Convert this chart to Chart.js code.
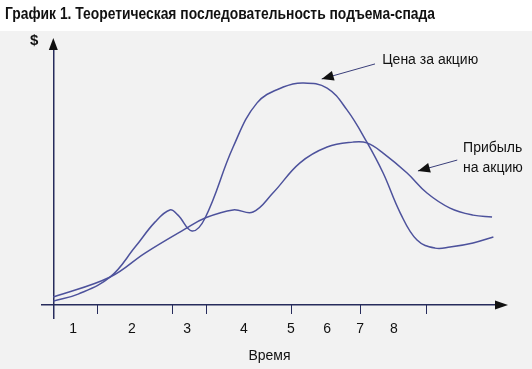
<!DOCTYPE html>
<html>
<head>
<meta charset="utf-8">
<script src="https://cdn.jsdelivr.net/npm/chart.js@4.4.1/dist/chart.umd.min.js"></script>
<style>
  body { margin: 0; background: #fff; }
  #wrap { width: 532px; height: 369px; }
</style>
</head>
<body>
<div id="wrap"><canvas id="boom-bust-chart" width="532" height="369"></canvas></div>
<script>
// chart 1 - boom/bust sequence

var titleText = "График 1. Теоретическая последовательность подъема-спада";

// x = time (arbitrary units), y = $ (arbitrary units)
var priceTime = [0, 5.5, 12.6, 18.1, 22.5, 25.8, 27.6, 30.7, 33.6, 39.8, 45.1, 50.9, 55.3, 60.6, 65.0, 69.4, 73.0, 76.8, 80.5, 84.5, 87.8, 92.9, 97.4];
var priceValues = [1.5, 4.2, 10.8, 22.3, 31.9, 36.6, 34.6, 28.5, 33.5, 60.8, 77.8, 83.9, 85.5, 83.5, 75.1, 62.7, 50.8, 35.4, 25.0, 21.9, 22.3, 23.9, 26.2];

var earningsTime = [0, 12.6, 20.3, 29.2, 33.6, 39.8, 44.2, 48.6, 54.6, 60.6, 66.3, 69.4, 73.0, 78.3, 82.7, 87.8, 92.9, 97.1];
var earningsValues = [3.1, 10.8, 20.0, 29.3, 33.5, 36.6, 35.8, 43.1, 54.7, 60.8, 62.7, 62.4, 58.5, 50.8, 43.1, 37.3, 34.6, 33.9];

var tickLabels = ["1", "2", "3", "4", "5", "6", "7", "8"];
var tickLabelTime = [4.4, 17.4, 29.6, 42.2, 52.6, 60.6, 67.9, 75.4];
var tickMarkTime = [0, 9.7, 26.3, 34.0, 52.8, 68.1, 82.7];

var xTitle = "Время";
var yTitle = "$";

// callouts: text lines, text anchor, arrow tail, arrow tip (data units)
var priceNote = ["Цена за акцию"];
var priceNoteAt = [72.8, 94.3];
var priceArrow = [[71.2, 92.8], [59.4, 87.0]];
var earningsNote = ["Прибыль", "на акцию"];
var earningsNoteAt = [90.7, 60.4];
var earningsArrow = [[89.4, 55.8], [80.7, 51.6]];

var lineColor = "#4d529c";
var axisColor = "#272c5c";
var textFont = "'Liberation Sans', Arial, sans-serif";

function toPoints(xs, ys) {
  return xs.map(function (x, i) { return { x: x, y: ys[i] }; });
}

function arrowHead(ctx, x1, y1, x2, y2, len, half) {
  var a = Math.atan2(y2 - y1, x2 - x1);
  ctx.beginPath();
  ctx.moveTo(x2, y2);
  ctx.lineTo(x2 - len * Math.cos(a) + half * Math.sin(a), y2 - len * Math.sin(a) - half * Math.cos(a));
  ctx.lineTo(x2 - len * Math.cos(a) - half * Math.sin(a), y2 - len * Math.sin(a) + half * Math.cos(a));
  ctx.closePath();
  ctx.fill();
}

var paperPlugin = {
  id: "paper",
  beforeDraw: function (chart) {
    var c = chart.ctx;
    c.save();
    c.fillStyle = "#ffffff";
    c.fillRect(0, 0, chart.width, chart.height);
    c.fillStyle = "#f2f2f2";
    c.fillRect(0, 31, chart.width, chart.height - 31);
    // condensed bold title
    c.fillStyle = "#111111";
    c.font = "bold 16px " + textFont;
    c.textBaseline = "middle";
    c.textAlign = "left";
    var w = c.measureText(titleText).width;
    c.translate(5, 15);
    c.scale(430 / w, 1);
    c.fillText(titleText, 0, 0);
    c.restore();
  },
  afterDraw: function (chart) {
    var c = chart.ctx;
    var xs = chart.scales.x, ys = chart.scales.y;
    var area = chart.chartArea;
    c.save();
    // axis arrows
    c.fillStyle = "#111111";
    var y0 = ys.getPixelForValue(0);
    arrowHead(c, area.left, y0, area.right + 11, y0, 13, 4.5);
    var x0 = xs.getPixelForValue(0);
    arrowHead(c, x0, area.bottom, x0, area.top - 8, 12, 4.5);
    // axis titles
    c.textBaseline = "middle";
    c.textAlign = "center";
    c.font = "bold 15px " + textFont;
    c.fillText(yTitle, x0 - 19, area.top - 5);
    c.font = "14px " + textFont;
    c.fillText(xTitle, (area.left + area.right) / 2, y0 + 51);
    // callouts
    c.textAlign = "left";
    [[priceNote, priceNoteAt, priceArrow], [earningsNote, earningsNoteAt, earningsArrow]].forEach(function (n) {
      var tx = xs.getPixelForValue(n[1][0]), ty = ys.getPixelForValue(n[1][1]);
      n[0].forEach(function (line, i) { c.fillText(line, tx, ty + i * 20); });
      var ax1 = xs.getPixelForValue(n[2][0][0]), ay1 = ys.getPixelForValue(n[2][0][1]);
      var ax2 = xs.getPixelForValue(n[2][1][0]), ay2 = ys.getPixelForValue(n[2][1][1]);
      c.strokeStyle = "#3a3f7a";
      c.lineWidth = 1;
      c.beginPath();
      c.moveTo(ax1, ay1);
      c.lineTo(ax2, ay2);
      c.stroke();
      arrowHead(c, ax1, ay1, ax2, ay2, 12, 5);
    });
    c.restore();
  }
};

var ctx1 = document.getElementById("boom-bust-chart").getContext("2d");

var chart1 = new Chart(ctx1, {
  type: "line",
  data: {
    datasets: [
      {
        label: "Цена за акцию",
        data: toPoints(priceTime, priceValues),
        borderColor: lineColor,
        borderWidth: 1.5,
        pointRadius: 0,
        fill: false,
        tension: 0.4,
      },
      {
        label: "Прибыль на акцию",
        data: toPoints(earningsTime, earningsValues),
        borderColor: lineColor,
        borderWidth: 1.5,
        pointRadius: 0,
        fill: false,
        tension: 0.4,
      },
    ],
  },
  options: {
    responsive: false,
    animation: false,
    layout: { padding: { left: 42, right: 35, top: 46, bottom: 51 } },
    plugins: {
      legend: { display: false },
      tooltip: { enabled: false },
    },
    scales: {
      x: {
        type: "linear",
        min: -2.5,
        max: 98.2,
        position: { y: 0 },
        afterBuildTicks: function (axis) {
          axis.ticks = tickLabelTime.map(function (v) { return { value: v }; });
        },
        grid: { display: false },
        border: { display: true, color: axisColor, width: 1.5 },
        ticks: {
          autoSkip: false,
          maxRotation: 0,
          padding: 8,
          color: "#111111",
          font: { size: 14, family: textFont },
          callback: function (value, index) { return tickLabels[index]; },
        },
      },
      xt: {
        type: "linear",
        axis: "x",
        min: -2.5,
        max: 98.2,
        position: { y: 0 },
        afterBuildTicks: function (axis) {
          axis.ticks = tickMarkTime.map(function (v) { return { value: v }; });
        },
        grid: {
          display: true,
          drawOnChartArea: false,
          drawTicks: true,
          tickLength: 9,
          color: axisColor,
          lineWidth: 1,
        },
        border: { display: false },
        ticks: { display: false },
      },
      y: {
        type: "linear",
        min: -5,
        max: 99.7,
        position: { x: 0 },
        grid: { display: false },
        border: { display: true, color: axisColor, width: 1.5 },
        ticks: { display: false },
      },
    },
  },
  plugins: [paperPlugin],
});
</script>
</body>
</html>
